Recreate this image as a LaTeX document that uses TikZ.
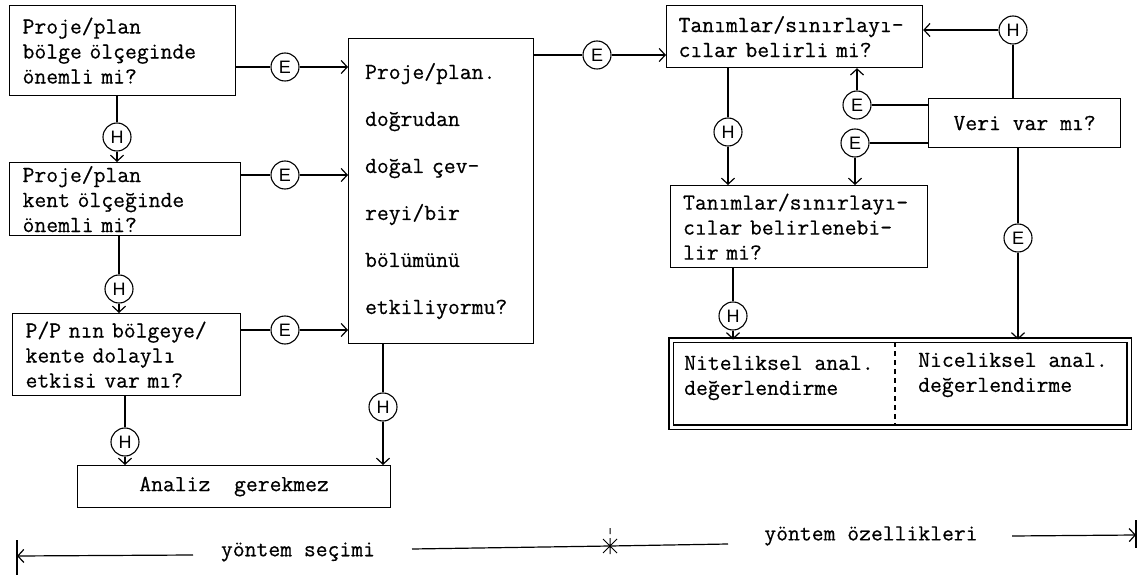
\documentclass[tikz,border=0pt]{standalone}
\usepackage{fontspec}
\usetikzlibrary{arrows.meta}
\newfontfamily\tw[FakeBold=0.5]{Latin Modern Mono}
\newfontfamily\cf{Liberation Sans}
\begin{document}
\begin{tikzpicture}[x=1pt,y=-1pt,
  box/.style={draw, line width=1.2pt, inner sep=0pt, anchor=north west,
    font=\tw\fontsize{23}{25}\selectfont, align=left},
  circ/.style={circle, draw, line width=1.1pt, minimum size=28pt, inner sep=0pt,
    font=\cf\fontsize{18}{18}\selectfont},
  ln/.style={line width=1.2pt},
  arr/.style={line width=1.2pt, -{Straight Barb[length=6pt,width=13pt]}},
  lbl/.style={font=\tw\fontsize{23}{25}\selectfont, inner sep=0pt}
]
\useasboundingbox (0,0) rectangle (1141,580);

% left column
\node[box, minimum width=226pt, minimum height=90pt, text width=200pt] (a1) at (9,5)
  {Proje/plan\\bölge ölçeginde\\önemli mi?};
\node[box, minimum width=231pt, minimum height=73pt, text width=205pt] (a2) at (9,162)
  {Proje/plan\\kent ölçeğinde\\önemli mi?};
\node[box, minimum width=228pt, minimum height=82pt, text width=202pt] (a3) at (12,313)
  {P/P nın bölgeye/\\kente dolaylı\\etkisi var mı?};
\node[box, minimum width=313pt, minimum height=42pt, align=center] (an) at (77,465)
  {Analiz~~gerekmez};

% big box
\node[box, minimum width=185pt, minimum height=305pt, text width=152pt,
  font=\tw\fontsize{23}{47}\selectfont] (bb) at (348,38)
  {Proje/plan.\\doğrudan\\doğal çev-\\reyi/bir\\bölümünü\\etkiliyormu?};

% right part
\node[box, minimum width=256pt, minimum height=62pt, text width=232pt] (t1) at (666,5)
  {Tanımlar/sınırlayı-\\cılar belirli mi?};
\node[box, minimum width=257pt, minimum height=82pt, text width=232pt] (t2) at (670,185)
  {Tanımlar/sınırlayı-\\cılar belirlenebi-\\lir mi?};
\node[box, minimum width=192pt, minimum height=49pt, align=center] (veri) at (928,98)
  {Veri var mı?};
\node[draw, line width=1.1pt, double, double distance=3pt, anchor=north west,
  minimum width=458pt, minimum height=87pt, inner sep=0pt] (nbox) at (670.5,339.5) {};
\node[lbl, anchor=west, align=left] (nl) at (684,378) {Niteliksel anal.\\değerlendirme};
\node[lbl, anchor=west, align=left] (nr) at (918,375) {Niceliksel anal.\\değerlendirme};
\draw[line width=1.1pt, dash pattern=on 5pt off 4pt] (895,342) -- (895,425);

% circles
\node[circ] (e1) at (285,67) {E};
\node[circ] (e2) at (285,175) {E};
\node[circ] (e3) at (285,330) {E};
\node[circ] (h1) at (117,137) {H};
\node[circ] (h2) at (119,289) {H};
\node[circ] (h3) at (125,442) {H};
\node[circ] (h4) at (383,407) {H};
\node[circ] (e4) at (597,55) {E};
\node[circ] (h5) at (728,132) {H};
\node[circ] (h6) at (733,316) {H};
\node[circ] (h7) at (1013,30) {H};
\node[circ] (e5) at (857,105) {E};
\node[circ] (e6) at (855,143) {E};
\node[circ] (e7) at (1018,238) {E};

% connectors left
\draw[ln] (e1 -| a1.east) -- (e1);  \draw[arr] (e1) -- (e1 -| bb.west);
\draw[ln] (e2 -| a2.east) -- (e2);  \draw[arr] (e2) -- (e2 -| bb.west);
\draw[ln] (e3 -| a3.east) -- (e3);  \draw[arr] (e3) -- (e3 -| bb.west);
\draw[ln] (h1 |- a1.south) -- (h1); \draw[arr] (h1) -- (h1 |- a2.north);
\draw[ln] (h2 |- a2.south) -- (h2); \draw[arr] (h2) -- (h2 |- a3.north);
\draw[ln] (h3 |- a3.south) -- (h3); \draw[arr] (h3) -- (h3 |- an.north);
\draw[ln] (h4 |- bb.south) -- (h4); \draw[arr] (h4) -- (h4 |- an.north);
% connectors right
\draw[ln] (e4 -| bb.east) -- (e4);  \draw[arr] (e4) -- (e4 -| t1.west);
\draw[ln] (h5 |- t1.south) -- (h5); \draw[arr] (h5) -- (h5 |- t2.north);
\draw[ln] (h6 |- t2.south) -- (h6); \draw[arr] (h6) -- (h6 |- nbox.north);
\draw[ln] (h7 |- veri.north) -- (h7); \draw[arr] (h7) -- (h7 -| t1.east);
\draw[ln] (e5 -| veri.west) -- (e5); \draw[arr] (e5) -- (e5 |- t1.south);
\draw[ln] (e6 -| veri.west) -- (e6); \draw[arr] (e6) -- (e6 |- t2.north);
\draw[ln] (e7 |- veri.south) -- (e7); \draw[arr] (e7) -- (e7 |- nbox.north);

% bottom span
\node[lbl] (ls) at (298,552) {yöntem seçimi};
\node[lbl] (lo) at (871,536) {yöntem özellikleri};
\coordinate (sl) at (17,556);
\coordinate (sla) at (193,555);
\coordinate (smb) at (412,549);
\coordinate (sm) at (610,546);
\coordinate (sme) at (728,544);
\coordinate (srb) at (1012,536);
\coordinate (sr) at (1136,535);
\draw[arr] (sla) -- (sl);
\draw[ln] (sl |- 0,540) -- (sl |- 0,575);
\draw[ln] (smb) -- (sm) -- (sme);
\draw[line width=1pt] ([shift={(-7,-7)}]sm) -- ([shift={(7,7)}]sm)
  ([shift={(-7,7)}]sm) -- ([shift={(7,-7)}]sm)
  ([shift={(0,-8)}]sm) -- ([shift={(0,8)}]sm)
  ([shift={(0,-18)}]sm) -- ([shift={(0,-12)}]sm);
\draw[arr] (srb) -- (sr);
\draw[ln] (sr |- 0,520) -- (sr |- 0,548);
\end{tikzpicture}
\end{document}
